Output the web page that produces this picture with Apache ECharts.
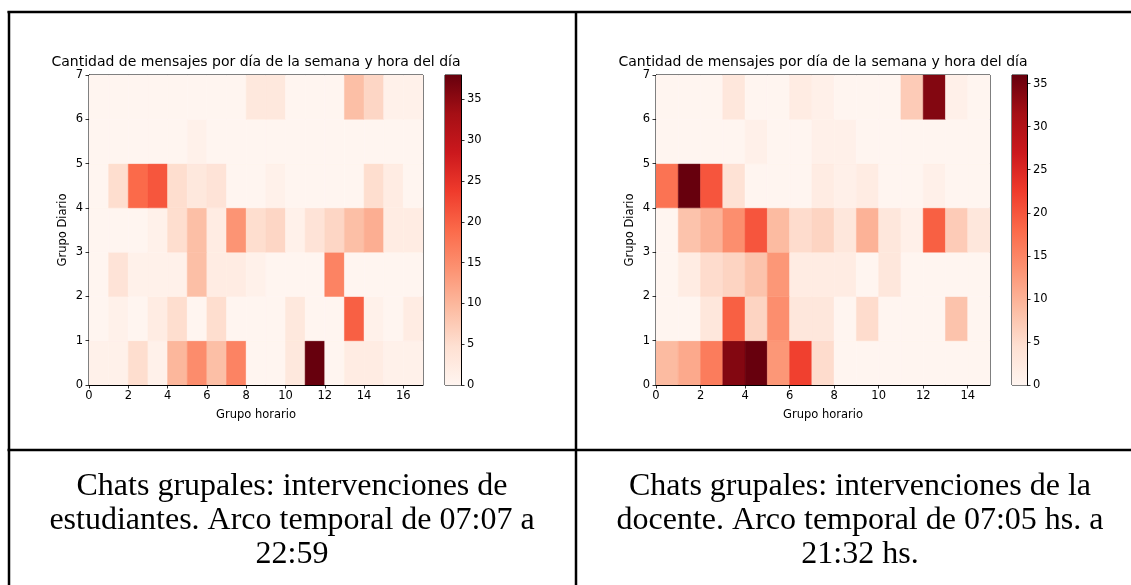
<!DOCTYPE html>
<html><head><meta charset="utf-8">
<script src="https://cdn.jsdelivr.net/npm/echarts@6/dist/echarts.min.js"></script>
<style>html,body{margin:0;padding:0;background:#fff;}#c{width:1131px;height:585px;}</style>
</head><body><div id="c"></div>
<script>
// ---- DATA ----
const chartTitle = 'Cantidad de mensajes por día de la semana y hora del día';
const xName = 'Grupo horario';
const yName = 'Grupo Diario';
// Students: rows = Grupo Diario 0..6 (bottom to top), columns = Grupo horario 0..16
const studentsRow0 = [1,1,5,1,10,15,9,16,0,0,3,38,0,2,2,1,1];
const studentsRow1 = [0,1,0,2,5,0,5,0,0,0,3,0,0,20,1,0,2];
const studentsRow2 = [0,4,1,1,1,9,2,2,1,0,0,0,16,0,0,0,0];
const studentsRow3 = [0,0,0,1,5,9,2,14,5,6,1,4,6,9,11,2,2];
const studentsRow4 = [0,5,19,21,5,3,4,0,0,1,0,0,0,0,5,2,0];
const studentsRow5 = [0,0,0,0,0,1,0,0,0,0,0,0,0,0,0,0,0];
const studentsRow6 = [0,0,0,0,0,0,0,0,3,3,0,0,0,9,6,1,1];
// Teacher: columns = Grupo horario 0..14
const teacherRow0 = [9,11,16,34,36,13,22,5,0,0,0,0,0,0,0];
const teacherRow1 = [0,0,3,19,6,14,3,3,0,5,0,0,0,8,0];
const teacherRow2 = [0,2,5,6,8,13,2,2,2,0,3,0,0,0,0];
const teacherRow3 = [0,8,10,14,20,9,5,6,3,10,3,1,19,7,3];
const teacherRow4 = [17,36,20,4,0,0,0,2,1,2,0,0,1,0,0];
const teacherRow5 = [0,0,0,0,1,0,0,1,1,0,0,0,0,0,0];
const teacherRow6 = [0,0,0,3,0,0,2,1,0,0,0,7,34,1,0];
const studentsXMax = 17, teacherXMax = 15, yMax = 7;
const studentsVMax = 38, teacherVMax = 36;
const studentsXTicks = [0,2,4,6,8,10,12,14,16];
const teacherXTicks = [0,2,4,6,8,10,12,14];
const yTicks = [0,1,2,3,4,5,6,7];
const cbTicks = [0,5,10,15,20,25,30,35];
const captionLeft = ['Chats grupales: intervenciones de','estudiantes. Arco temporal de 07:07 a','22:59'];
const captionRight = ['Chats grupales: intervenciones de la','docente. Arco temporal de 07:05 hs. a','21:32 hs.'];

// ---- STYLE ----
const reds = ['#fff5f0','#fee0d2','#fcbba1','#fc9272','#fb6a4a','#ef3b2c','#cb181d','#a50f15','#67000d'];
const FONT = 'DejaVu Sans';

function toCells(rows){const out=[];rows.forEach((r,y)=>r.forEach((v,x)=>out.push([x,y,v])));return out;}
const studentsCells = toCells([studentsRow0,studentsRow1,studentsRow2,studentsRow3,studentsRow4,studentsRow5,studentsRow6]);
const teacherCells = toCells([teacherRow0,teacherRow1,teacherRow2,teacherRow3,teacherRow4,teacherRow5,teacherRow6]);

function renderCell(params, api){
  const x = api.value(0), y = api.value(1);
  const p0 = api.coord([x, y+1]), p1 = api.coord([x+1, y]);
  const c = api.visual('color');
  return {type:'rect', shape:{x:p0[0], y:p0[1], width:p1[0]-p0[0], height:p1[1]-p0[1]},
    style:{fill:c, stroke:c, lineWidth:0.5}};
}
const lbl = {fontFamily:FONT, fontSize:11.5, color:'#000'};
function heatX(gi, max, ticks){
  return {type:'value', gridIndex:gi, min:0, max:max, name:xName, nameLocation:'middle', nameGap:24,
    nameTextStyle:Object.assign({}, lbl),
    axisLine:{show:true, lineStyle:{color:'#000', width:1}},
    axisTick:{show:true, length:3.5, customValues:ticks, lineStyle:{color:'#000', width:0.8}},
    axisLabel:Object.assign({customValues:ticks, margin:5}, lbl), splitLine:{show:false}};
}
function heatY(gi){
  return {type:'value', gridIndex:gi, min:0, max:yMax, name:yName, nameLocation:'middle', nameGap:20,
    nameTextStyle:Object.assign({}, lbl),
    axisLine:{show:true, lineStyle:{color:'#000', width:1}},
    axisTick:{show:true, length:3.5, customValues:yTicks, lineStyle:{color:'#000', width:0.8}},
    axisLabel:Object.assign({customValues:yTicks, margin:6}, lbl), splitLine:{show:false}};
}
function cbX(gi){return {type:'category', gridIndex:gi, data:['cb'], show:false, boundaryGap:true};}
function cbY(gi, max){
  return {type:'value', gridIndex:gi, min:0, max:max, position:'right',
    axisLine:{show:true, lineStyle:{color:'#000', width:1}},
    axisTick:{show:true, length:3.5, customValues:cbTicks, lineStyle:{color:'#000', width:0.8}},
    axisLabel:Object.assign({customValues:cbTicks, margin:6}, lbl), splitLine:{show:false}};
}
function gradient(){return new echarts.graphic.LinearGradient(0,1,0,0, reds.map((c,i)=>({offset:i/(reds.length-1), color:c})));}
const gridStyle = {show:true, borderColor:'#000', borderWidth:1, backgroundColor:'transparent', containLabel:false};

const graphics = [];
function line(x1,y1,x2,y2){graphics.push({type:'line', shape:{x1,y1,x2,y2}, style:{stroke:'#000', lineWidth:2.5}, z:100});}
line(7.5,12,1131,12); line(9,11,9,585); line(576,11,576,585); line(7.5,450,1131,450);
function text(x,y,t,font){graphics.push({type:'text', x, y, style:{text:t, font, fill:'#000', textAlign:'center', textVerticalAlign:'middle'}, z:100});}
text(256,62,chartTitle,'14px "DejaVu Sans"');
text(823,62,chartTitle,'14px "DejaVu Sans"');
const capYs=[487,521,555];
captionLeft.forEach((t,i)=>text(292,capYs[i],t,'32px "Liberation Serif"'));
captionRight.forEach((t,i)=>text(860,capYs[i],t,'32px "Liberation Serif"'));

const chart = echarts.init(document.getElementById('c'), null, {renderer:'canvas'});
chart.setOption({
  animation:false, backgroundColor:'#fff',
  grid:[
    Object.assign({left:89, top:75, width:334, height:310}, gridStyle),
    Object.assign({left:445, top:75, width:16, height:310}, gridStyle),
    Object.assign({left:656, top:75, width:334, height:310}, gridStyle),
    Object.assign({left:1012, top:75, width:15, height:310}, gridStyle)
  ],
  xAxis:[heatX(0, studentsXMax, studentsXTicks), cbX(1), heatX(2, teacherXMax, teacherXTicks), cbX(3)],
  yAxis:[heatY(0), cbY(1, studentsVMax), heatY(2), cbY(3, teacherVMax)],
  visualMap:[
    {type:'continuous', show:false, seriesIndex:0, dimension:2, min:0, max:studentsVMax, inRange:{color:reds}},
    {type:'continuous', show:false, seriesIndex:2, dimension:2, min:0, max:teacherVMax, inRange:{color:reds}}
  ],
  series:[
    {type:'custom', xAxisIndex:0, yAxisIndex:0, renderItem:renderCell, data:studentsCells, encode:{x:0,y:1}, clip:true, silent:true, z:1},
    {type:'bar', xAxisIndex:1, yAxisIndex:1, data:[studentsVMax], barWidth:'100%', itemStyle:{color:gradient()}, silent:true},
    {type:'custom', xAxisIndex:2, yAxisIndex:2, renderItem:renderCell, data:teacherCells, encode:{x:0,y:1}, clip:true, silent:true, z:1},
    {type:'bar', xAxisIndex:3, yAxisIndex:3, data:[teacherVMax], barWidth:'100%', itemStyle:{color:gradient()}, silent:true}
  ],
  graphic:graphics
});
</script></body></html>
